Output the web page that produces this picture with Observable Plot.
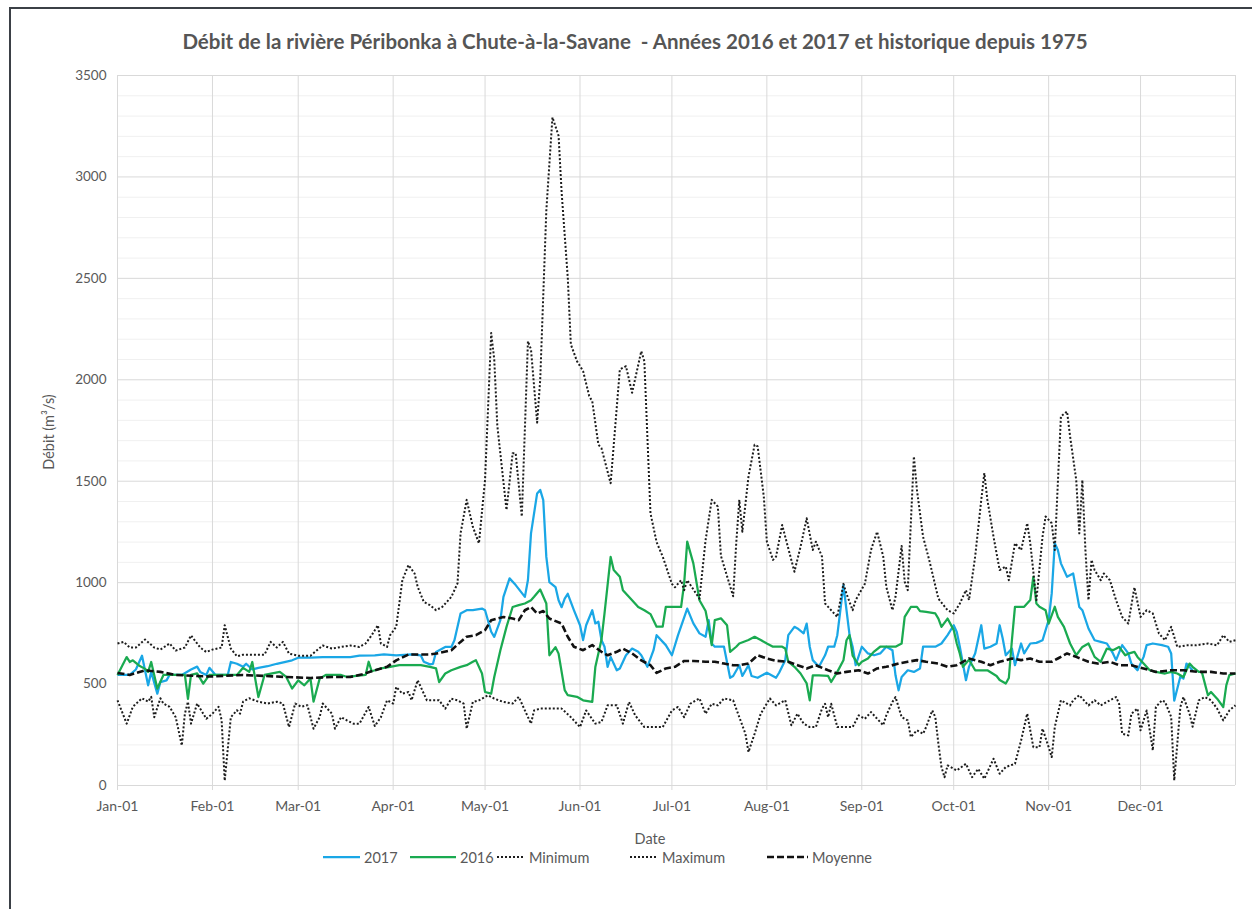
<!DOCTYPE html>
<html><head><meta charset="utf-8">
<script src="https://cdn.jsdelivr.net/npm/d3@7"></script>
<script src="https://cdn.jsdelivr.net/npm/@observablehq/plot@0.6"></script>
<style>
body{margin:0;background:#fff;font-family:Lato,"Open Sans",sans-serif;}
#wrap{position:relative;width:1252px;height:909px;overflow:hidden;background:#fff;}
#frame{position:absolute;left:9px;top:7px;width:1270px;height:930px;border:2px solid #3b4046;box-sizing:border-box;pointer-events:none;}
#chart{position:absolute;left:0;top:0;}
#title{position:absolute;top:29px;left:0;width:1270px;text-align:center;font-size:20.5px;font-weight:700;color:#555;}
.lab{position:absolute;font-size:14.5px;color:#595959;white-space:nowrap;}
.leg{position:absolute;top:849px;height:16px;display:flex;align-items:center;font-size:14.5px;color:#595959;white-space:nowrap;}
.leg svg{margin-right:4px;}
</style></head>
<body><div id="wrap"><div id="chart"></div><div id="title">Débit de la rivière Péribonka à Chute-à-la-Savane&nbsp; - Années 2016 et 2017 et historique depuis 1975</div>
<div class="lab" style="left:650px;top:838px;transform:translate(-50%,-50%);">Date</div>
<div class="lab" style="left:48px;top:432px;transform:translate(-50%,-50%) rotate(-90deg);">Débit (m³/s)</div>
<div id="legend"></div>
<div id="frame"></div></div>
<script>
// [jour de l'année (0 = 1er janvier), débit m³/s]
const serie2017 = [[0,545],[4,545],[6,572],[8,640],[10,494],[11,560],[13,453],[14,510],[16,518],[17,545],[21,545],[24,572],[26,586],[27,560],[29,545],[30,580],[32,545],[36,545],[37,609],[39,600],[41,585],[42,600],[44,572],[46,580],[49,588],[52,600],[57,617],[59,630],[63,630],[67,633],[73,633],[76,633],[79,640],[84,642],[87,646],[91,642],[96,646],[99,642],[100,610],[102,597],[103,600],[104,658],[107,683],[109,683],[110,716],[112,848],[114,864],[116,864],[119,872],[120,864],[122,758],[123,733],[125,815],[126,930],[128,1021],[130,988],[133,930],[134,1013],[135,1243],[137,1440],[138,1457],[139,1407],[140,1127],[141,1003],[143,978],[144,913],[145,879],[146,921],[147,945],[149,865],[151,790],[152,717],[153,790],[155,864],[156,799],[157,807],[158,717],[159,684],[160,585],[161,634],[163,568],[164,577],[166,642],[168,675],[170,659],[171,642],[173,585],[175,667],[176,741],[179,692],[181,642],[183,741],[186,872],[188,799],[190,750],[192,733],[193,815],[194,700],[195,684],[198,684],[200,531],[201,540],[203,593],[204,540],[206,593],[207,540],[209,531],[212,556],[215,531],[216,556],[218,618],[219,741],[221,782],[222,774],[224,750],[225,798],[226,684],[227,618],[229,585],[231,642],[232,684],[234,684],[235,741],[237,988],[238,864],[239,741],[240,684],[241,593],[243,684],[245,651],[247,642],[249,651],[251,684],[253,667],[254,543],[255,469],[256,535],[258,568],[260,560],[262,577],[263,684],[267,684],[269,700],[271,741],[273,790],[274,757],[275,684],[277,519],[278,585],[280,651],[282,790],[283,675],[285,684],[287,700],[288,790],[289,725],[290,642],[292,675],[293,593],[295,700],[296,651],[298,700],[300,703],[302,716],[304,815],[305,947],[306,1194],[307,1161],[308,1095],[310,1029],[312,1045],[313,963],[314,880],[315,864],[317,774],[319,716],[321,708],[323,700],[325,651],[326,618],[328,692],[330,651],[331,601],[333,568],[335,634],[336,692],[338,700],[341,692],[343,684],[344,651],[345,418],[347,537],[348,527],[349,601],[351,568]];

const serie2016 = [[0,545],[3,633],[4,609],[5,617],[7,592],[9,575],[10,560],[11,609],[13,478],[15,545],[17,545],[22,545],[23,427],[24,545],[26,553],[28,502],[30,545],[39,545],[41,580],[43,560],[44,609],[46,436],[48,545],[53,560],[55,537],[57,478],[59,518],[61,494],[63,527],[64,413],[66,527],[68,545],[73,545],[75,535],[81,545],[82,610],[83,563],[86,577],[89,585],[92,593],[99,593],[102,585],[104,577],[105,510],[107,552],[109,568],[112,585],[114,593],[116,610],[117,618],[119,552],[120,461],[122,453],[123,535],[125,667],[127,782],[129,880],[131,889],[133,897],[135,913],[136,930],[138,966],[140,897],[141,642],[143,682],[144,650],[146,470],[147,445],[150,437],[152,420],[155,412],[156,584],[158,718],[159,849],[161,1127],[162,1062],[164,1029],[165,963],[168,913],[170,880],[172,864],[174,845],[176,783],[178,783],[179,880],[181,880],[184,880],[185,996],[186,1202],[188,1095],[190,913],[192,860],[193,782],[194,692],[195,815],[197,824],[199,790],[200,659],[202,684],[203,700],[206,717],[208,733],[210,717],[212,700],[214,684],[217,684],[218,675],[219,610],[221,585],[223,552],[225,503],[226,420],[227,543],[229,543],[232,540],[233,510],[235,560],[237,617],[238,716],[239,741],[240,640],[242,593],[243,610],[245,626],[247,660],[249,684],[251,684],[254,684],[256,700],[257,831],[259,880],[261,881],[262,860],[264,856],[267,848],[268,823],[269,782],[271,823],[273,766],[274,700],[275,650],[276,585],[278,620],[280,568],[282,568],[284,568],[287,540],[288,520],[290,503],[291,530],[292,716],[293,881],[296,881],[298,914],[299,1029],[300,897],[301,881],[303,864],[304,798],[306,881],[307,831],[309,782],[311,700],[313,642],[315,683],[317,700],[319,634],[321,610],[323,675],[325,667],[327,683],[329,642],[330,650],[332,659],[333,634],[335,601],[337,568],[339,560],[342,552],[344,560],[346,552],[348,535],[350,601],[351,585],[353,560],[354,560],[356,445],[357,461],[359,428],[361,387],[362,494],[363,544],[365,552]];

const serieMinimum = [[0,420],[3,305],[5,388],[8,430],[10,413],[11,437],[12,337],[14,430],[15,404],[17,388],[19,337],[21,197],[22,354],[23,413],[24,305],[26,404],[28,354],[29,329],[31,354],[33,388],[34,321],[35,24],[37,337],[39,371],[40,354],[41,413],[43,430],[46,413],[49,404],[52,413],[54,404],[56,288],[58,404],[60,388],[62,396],[64,280],[66,337],[67,404],[70,354],[71,280],[73,337],[75,320],[77,305],[79,305],[82,387],[84,293],[86,337],[88,420],[90,404],[91,486],[93,453],[95,461],[96,420],[98,519],[99,486],[101,420],[103,420],[105,420],[107,379],[109,428],[111,420],[113,404],[114,280],[116,412],[118,420],[121,445],[123,428],[126,412],[129,404],[131,437],[133,370],[135,305],[136,370],[138,379],[141,379],[145,379],[148,337],[151,288],[153,370],[156,305],[158,313],[160,395],[163,395],[165,305],[167,412],[169,346],[172,288],[175,288],[178,288],[181,370],[183,387],[185,337],[187,403],[190,429],[192,354],[194,403],[196,395],[198,429],[201,420],[203,337],[205,255],[206,165],[208,255],[210,354],[213,429],[215,395],[218,420],[220,297],[222,354],[224,305],[226,288],[228,288],[230,379],[231,403],[232,337],[233,403],[235,288],[240,288],[242,346],[244,329],[246,362],[248,329],[250,297],[251,346],[253,412],[254,436],[256,337],[258,321],[259,239],[261,272],[263,255],[264,288],[266,370],[267,337],[268,206],[269,91],[270,41],[271,99],[274,74],[277,107],[279,41],[281,82],[283,33],[286,132],[288,58],[290,91],[293,107],[295,222],[297,354],[299,189],[301,189],[302,280],[304,189],[305,140],[306,288],[308,420],[311,395],[312,420],[314,445],[317,395],[319,420],[321,395],[324,420],[326,436],[327,403],[328,255],[330,247],[331,354],[333,379],[334,272],[336,370],[338,173],[339,387],[341,420],[342,412],[344,338],[345,25],[347,387],[348,436],[350,354],[351,290],[353,420],[355,436],[357,420],[359,379],[361,321],[363,370],[365,395]];

const serieMaximum = [[0,700],[2,708],[4,680],[6,680],[9,720],[12,680],[14,670],[17,700],[19,665],[22,680],[24,740],[27,680],[29,658],[31,670],[34,680],[35,790],[37,675],[39,637],[41,645],[44,645],[48,645],[50,708],[52,680],[54,708],[56,650],[59,640],[63,640],[67,690],[70,675],[73,683],[76,690],[79,683],[81,700],[83,741],[85,790],[86,700],[88,683],[89,741],[91,782],[92,897],[93,1012],[95,1087],[97,1045],[98,979],[100,905],[102,889],[104,864],[106,880],[109,930],[111,996],[112,1243],[114,1408],[116,1276],[118,1194],[120,1507],[122,2231],[123,2100],[124,1774],[127,1358],[129,1638],[130,1638],[132,1326],[134,2190],[135,2149],[137,1789],[138,1998],[140,2834],[142,3294],[144,3203],[145,2923],[147,2504],[148,2175],[150,2092],[152,2043],[154,1920],[155,1894],[157,1680],[158,1663],[161,1490],[164,2051],[166,2067],[168,1936],[171,2141],[172,2092],[174,1342],[176,1200],[178,1128],[181,994],[182,977],[184,1012],[185,963],[186,1012],[190,921],[192,1210],[194,1408],[196,1375],[197,1132],[199,1032],[201,933],[202,1194],[203,1408],[204,1251],[206,1523],[208,1680],[209,1672],[211,1424],[212,1202],[214,1112],[215,1128],[217,1284],[218,1226],[221,1054],[223,1177],[225,1317],[227,1161],[228,1202],[230,1128],[231,897],[233,864],[235,831],[237,994],[238,945],[240,864],[241,914],[244,994],[246,1161],[248,1251],[250,1128],[251,979],[253,864],[254,930],[256,1181],[257,1005],[258,963],[260,1622],[261,1457],[263,1226],[265,1112],[268,921],[271,864],[273,848],[275,897],[277,963],[278,914],[280,1128],[282,1408],[283,1540],[284,1408],[286,1226],[288,1062],[290,1079],[291,1012],[293,1194],[295,1161],[297,1293],[298,1194],[300,914],[302,1226],[303,1326],[305,1293],[306,1161],[308,1820],[310,1844],[311,1721],[313,1506],[314,1243],[315,1506],[316,1161],[317,914],[318,1112],[319,1062],[321,1012],[322,1045],[324,1012],[326,914],[328,831],[330,798],[332,977],[334,831],[336,864],[338,848],[340,749],[342,716],[344,782],[346,683],[349,691],[352,691],[356,700],[359,691],[361,741],[363,708],[365,716]];

const serieMoyenne = [[0,555],[4,545],[9,568],[14,560],[19,545],[30,537],[41,545],[52,537],[63,530],[70,535],[76,535],[80,548],[84,568],[88,585],[91,617],[95,646],[99,646],[102,646],[105,653],[109,667],[112,708],[114,733],[117,741],[120,766],[122,815],[124,823],[126,831],[129,823],[131,815],[133,864],[135,880],[137,848],[139,860],[141,823],[145,798],[147,733],[149,684],[152,667],[155,692],[158,659],[160,642],[163,659],[165,675],[168,651],[171,617],[174,593],[176,555],[179,577],[182,585],[185,614],[188,614],[192,610],[195,610],[198,601],[201,593],[203,593],[206,601],[209,642],[212,626],[215,615],[219,610],[222,593],[225,577],[228,593],[232,568],[235,552],[238,560],[242,568],[245,552],[248,577],[251,585],[255,601],[258,610],[261,618],[264,610],[268,601],[271,585],[274,593],[278,626],[282,610],[285,593],[288,610],[292,626],[295,618],[298,626],[301,610],[305,610],[307,626],[310,651],[313,634],[317,610],[320,601],[324,610],[327,593],[331,593],[335,577],[339,560],[344,568],[348,568],[353,560],[357,560],[361,552],[365,552]];

const yTicks = [0,500,1000,1500,2000,2500,3000,3500];
const seriesNames = ["2017","2016","Minimum","Maximum","Moyenne"];

const t0 = Date.UTC(2017,0,1);
const toDate = d => new Date(t0 + d*864e5);
const monthStarts = d3.utcMonth.range(new Date(t0), new Date(Date.UTC(2018,0,2)));
const monthLabels = monthStarts.slice(0,12);
const minorY = d3.range(100,3500,100).filter(v => v % 500 !== 0);

const styles = {
  "2017":   {stroke:"#1aa7e6", strokeWidth:2.25},
  "2016":   {stroke:"#1aaa50", strokeWidth:2.25},
  "Minimum":{stroke:"#1c1c1c", strokeWidth:2, strokeDasharray:"2 2"},
  "Maximum":{stroke:"#1c1c1c", strokeWidth:2, strokeDasharray:"2 2"},
  "Moyenne":{stroke:"#111", strokeWidth:2.6, strokeDasharray:"7 3"}
};
const dataBy = {"2017":serie2017,"2016":serie2016,"Minimum":serieMinimum,"Maximum":serieMaximum,"Moyenne":serieMoyenne};

const chart = Plot.plot({
  width:1252, height:909,
  marginLeft:117, marginRight:17, marginTop:75, marginBottom:124,
  style:{fontFamily:"Lato, 'Open Sans', sans-serif", fontSize:"13px", color:"#595959", background:"transparent"},
  x:{type:"utc", domain:[new Date(t0), new Date(Date.UTC(2018,0,1))]},
  y:{domain:[0,3500]},
  marks:[
    Plot.ruleY(minorY, {stroke:"#f0f0f0", strokeWidth:1}),
    Plot.ruleY(yTicks, {stroke:"#d9d9d9", strokeWidth:1}),
    Plot.ruleX(monthStarts, {stroke:"#d9d9d9", strokeWidth:1}),
    Plot.axisY({ticks:yTicks, tickFormat:d => String(d), tickSize:0, tickPadding:11, label:null, fontSize:13.5}),
    Plot.axisX({ticks:monthLabels, tickFormat:d3.utcFormat("%b-%d"), tickSize:5, tickPadding:11, stroke:"#d9d9d9", label:null, fontSize:14}),
    ...seriesNames.map(n => Plot.line(dataBy[n], {x:d => toDate(d[0]), y:d => d[1], ...styles[n], strokeLinejoin:"round", strokeLinecap:"butt"}))
  ]
});
document.getElementById("chart").appendChild(chart);

// légende
const legendPos = {"2017":[323,37],"2016":[410,46],"Minimum":[497,28],"Maximum":[630,28],"Moyenne":[767,41]};
const leg = document.getElementById("legend");
seriesNames.forEach(n => {
  const [left,w] = legendPos[n];
  const s = styles[n];
  const div = document.createElement("div");
  div.className = "leg";
  div.style.left = left + "px";
  div.innerHTML = `<svg width="${w}" height="10"><line x1="0" x2="${w}" y1="5" y2="5" stroke="${s.stroke}" stroke-width="${s.strokeWidth}" ${s.strokeDasharray?`stroke-dasharray="${s.strokeDasharray}"`:""}/></svg>${n}`;
  leg.appendChild(div);
});
</script></body></html>
